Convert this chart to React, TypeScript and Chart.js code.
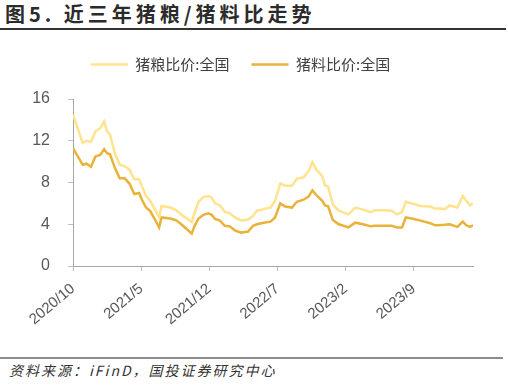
import React, { useEffect, useRef } from "react";
import { Chart, registerables } from "chart.js";

Chart.register(...registerables);

// months since 2020/10
const monthOffsets = [
  0, 1.0, 1.4, 1.85, 2.3, 2.8, 3.2, 3.5, 3.8, 4.3, 4.8, 5.3, 5.8, 6.3, 6.8, 7.06, 7.5, 7.9, 8.4, 8.85,
  9.1, 10.0, 10.66, 11.3, 11.85, 12.2, 12.5, 12.9, 13.4, 13.9, 14.25, 14.6, 15.1, 15.6, 16.1, 16.65,
  17.3, 18.0, 18.5, 18.9, 19.6, 20.3, 20.76, 21.3, 21.8, 22.5, 23.0, 23.7, 24.2, 24.6, 25.0, 25.6,
  25.9, 26.2, 26.7, 27.3, 28.3, 29.0, 29.8, 30.6, 31.0, 31.9, 32.75, 33.3, 33.8, 34.2, 34.8, 35.7,
  36.7, 37.2, 37.5, 38.2, 38.7, 39.5, 40.05, 40.4, 40.8, 41.1,
];

const grainRatio = [
  14.5, 11.8, 12.0, 11.9, 12.9, 13.2, 13.85, 12.9, 12.6, 10.8, 9.7, 9.55, 9.25, 8.3, 8.3, 7.7, 6.7, 6.3, 5.45, 4.65,
  5.75, 5.6, 5.3, 4.8, 4.45, 4.2, 5.1, 6.15, 6.6, 6.7, 6.55, 6.0, 5.8, 5.2, 5.05, 4.65,
  4.35, 4.45, 4.8, 5.3, 5.45, 5.6, 6.25, 7.9, 7.7, 7.7, 8.35, 8.5, 9.1, 9.95, 9.25, 8.6,
  7.7, 7.65, 5.9, 5.3, 4.95, 5.6, 5.4, 5.15, 5.35, 5.35, 5.3, 4.95, 5.15, 6.15, 6.0, 5.75,
  5.7, 5.5, 5.5, 5.45, 5.8, 5.6, 6.7, 6.25, 5.8, 6.0,
];

const feedRatio = [
  11.3, 9.7, 9.8, 9.5, 10.5, 10.65, 11.2, 10.8, 10.7, 9.4, 8.4, 8.4, 7.9, 6.9, 7.0, 6.4, 5.6, 5.3, 4.5, 3.7,
  4.65, 4.55, 4.35, 3.85, 3.4, 3.1, 3.85, 4.55, 4.9, 5.05, 4.9, 4.5, 4.35, 3.85, 3.8, 3.4,
  3.2, 3.3, 3.85, 4.0, 4.15, 4.25, 4.65, 6.0, 5.7, 5.6, 6.15, 6.35, 6.65, 7.25, 6.8, 6.25,
  5.8, 5.75, 4.4, 4.0, 3.7, 4.15, 4.0, 3.8, 3.85, 3.85, 3.85, 3.7, 3.7, 4.65, 4.55, 4.35,
  4.1, 3.9, 3.9, 3.95, 4.0, 3.75, 4.25, 3.9, 3.75, 3.9,
];

const xTickLabels = ["2020/10", "2021/5", "2021/12", "2022/7", "2023/2", "2023/9"];
const seriesNames = ["猪粮比价:全国", "猪料比价:全国"];

const legendGap = {
  id: "legendGap",
  beforeInit(chart: any) {
    const legend = chart.legend;
    if (!legend) return;
    const origFit = legend.fit;
    legend.fit = function () {
      origFit.call(this);
      this.height += 17;
    };
  },
};

export default function App() {
  const ref = useRef<HTMLCanvasElement | null>(null);

  useEffect(() => {
    if (!ref.current) return;
    const toPts = (vals: number[]) => vals.map((v, i) => ({ x: monthOffsets[i], y: v }));
    const chart = new Chart(ref.current, {
      type: "line",
      data: {
        datasets: [
          {
            label: seriesNames[0],
            data: toPts(grainRatio),
            borderColor: "#FFE38F",
            backgroundColor: "#FFE38F",
            borderWidth: 2.5,
            pointRadius: 0,
            tension: 0,
            pointStyle: "line",
          },
          {
            label: seriesNames[1],
            data: toPts(feedRatio),
            borderColor: "#E9B23A",
            backgroundColor: "#E9B23A",
            borderWidth: 2.5,
            pointRadius: 0,
            tension: 0,
            pointStyle: "line",
          },
        ],
      },
      plugins: [legendGap],
      options: {
        responsive: false,
        animation: false,
        devicePixelRatio: 1,
        layout: { padding: { top: 5, right: 35, left: 8, bottom: 0 } },
        plugins: {
          tooltip: { enabled: false },
          legend: {
            display: true,
            position: "top",
            labels: {
              usePointStyle: true,
              pointStyleWidth: 37,
              boxHeight: 15,
              padding: 22,
              color: "#404040",
              font: { family: '"Noto Sans CJK SC", sans-serif', size: 15 },
            },
          },
        },
        scales: {
          x: {
            type: "linear",
            min: 0,
            max: 41.1,
            afterFit: (s: any) => {
              s.height = 86;
            },
            grid: { drawOnChartArea: false, drawTicks: true, tickLength: 5, color: "#BFBFBF" },
            border: { color: "#A6A6A6", width: 1 },
            ticks: {
              stepSize: 7,
              includeBounds: false,
              autoSkip: false,
              minRotation: 40,
              maxRotation: 40,
              padding: 9,
              color: "#595959",
              font: { family: '"Liberation Sans", Arial, sans-serif', size: 15 },
              callback: (v: any) => {
                const idx = Math.round(Number(v) / 7);
                return Math.abs(Number(v) - idx * 7) < 1e-6 ? xTickLabels[idx] : null;
              },
            },
          },
          y: {
            min: 0,
            max: 16,
            afterFit: (s: any) => {
              s.width = 65;
            },
            grid: { drawOnChartArea: false, drawTicks: true, tickLength: 5, color: "#BFBFBF" },
            border: { color: "#A6A6A6", width: 1 },
            ticks: {
              stepSize: 4,
              padding: 18,
              color: "#595959",
              font: { family: '"Liberation Sans", Arial, sans-serif', size: 16 },
            },
          },
        },
      },
    });
    return () => chart.destroy();
  }, []);

  return (
    <div
      style={{
        position: "absolute",
        left: 0,
        top: 0,
        width: 508,
        height: 386,
        background: "#fff",
        overflow: "hidden",
      }}
    >
      <div
        style={{
          position: "absolute",
          left: 5,
          top: 1,
          fontFamily: '"Noto Sans CJK SC", sans-serif',
          fontWeight: 700,
          fontSize: 20,
          letterSpacing: 4,
          color: "#2B2B2B",
          whiteSpace: "nowrap",
          lineHeight: "25px",
        }}
      >
        图5. 近三年猪粮/猪料比走势
      </div>
      <div style={{ position: "absolute", left: 0, top: 28, width: 506, height: 2, background: "#333" }} />
      <canvas
        ref={ref}
        width={508}
        height={322}
        style={{ position: "absolute", left: 0, top: 30, width: 508, height: 322 }}
      />
      <div style={{ position: "absolute", left: 0, top: 357, width: 503, height: 1.5, background: "#8C8C8C" }} />
      <div
        style={{
          position: "absolute",
          left: 9,
          top: 361,
          fontFamily: '"Noto Sans CJK SC", sans-serif',
          fontStyle: "italic",
          fontSize: 14,
          letterSpacing: 2,
          color: "#333",
          whiteSpace: "nowrap",
          lineHeight: "18px",
        }}
      >
        资料来源：iFinD，国投证券研究中心
      </div>
    </div>
  );
}
